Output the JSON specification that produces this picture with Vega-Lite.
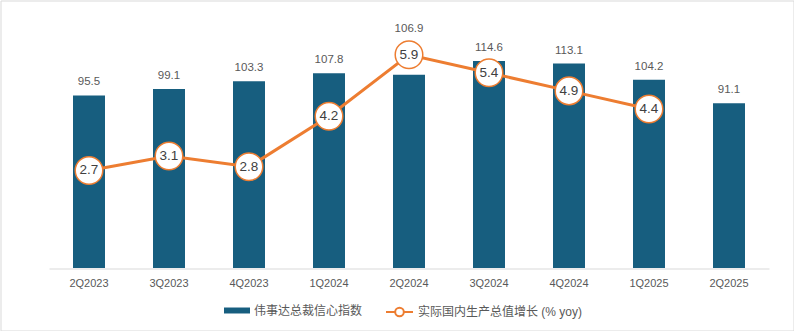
{
  "$schema": "https://vega.github.io/schema/vega-lite/v6.json",
  "width": 793,
  "height": 330,
  "autosize": {"type": "none"},
  "padding": {"left": 0.5, "top": 0.5, "right": 0.5, "bottom": 0.5},
  "background": "white",
  "config": {
    "view": {"stroke": "#D9D9D9", "strokeWidth": 1},
    "font": "Liberation Sans, Noto Sans CJK SC, sans-serif"
  },
  "data": {
    "values": [
      {"q": "2Q2023", "idx": 95.5, "gdp": 2.7},
      {"q": "3Q2023", "idx": 99.1, "gdp": 3.1},
      {"q": "4Q2023", "idx": 103.3, "gdp": 2.8},
      {"q": "1Q2024", "idx": 107.8, "gdp": 4.2},
      {"q": "2Q2024", "idx": 106.9, "gdp": 5.9},
      {"q": "3Q2024", "idx": 114.6, "gdp": 5.4},
      {"q": "4Q2024", "idx": 113.1, "gdp": 4.9},
      {"q": "1Q2025", "idx": 104.2, "gdp": 4.4},
      {"q": "2Q2025", "idx": 91.1, "gdp": null}
    ]
  },
  "encoding": {
    "x": {
      "field": "q",
      "type": "nominal",
      "sort": null,
      "scale": {"range": [48.5, 768.5], "paddingInner": 0.6, "paddingOuter": 0.3},
      "axis": {
        "orient": "bottom",
        "offset": -62,
        "title": null,
        "labelAngle": 0,
        "ticks": false,
        "grid": false,
        "domainColor": "#D9D9D9",
        "domainWidth": 1,
        "labelPadding": 9,
        "labelFontSize": 11,
        "labelColor": "#595959"
      }
    }
  },
  "layer": [
    {
      "mark": {"type": "bar"},
      "encoding": {
        "y": {"field": "idx", "type": "quantitative", "scale": {"domain": [0, 140], "range": [267.5, 14.5], "nice": false}, "axis": null},
        "color": {
          "datum": "伟事达总裁信心指数",
          "scale": {"range": ["#175E7F"]},
          "legend": {
            "orient": "none",
            "legendX": 223.5,
            "legendY": 297,
            "title": null,
            "padding": 0,
            "symbolType": "M-1,-0.23H1V0.23H-1Z",
            "symbolSize": 676,
            "symbolStrokeWidth": 0,
            "labelFontSize": 12,
            "labelColor": "#595959",
            "labelOffset": 4,
            "labelLimit": 300
          }
        }
      }
    },
    {
      "transform": [{"filter": "datum.q !== '2Q2024'"}],
      "mark": {"type": "text", "dy": -13, "baseline": "middle", "fontSize": 11.5, "color": "#595959"},
      "encoding": {
        "y": {"field": "idx", "type": "quantitative", "scale": {"domain": [0, 140], "range": [267.5, 14.5], "nice": false}, "axis": null},
        "text": {"field": "idx", "type": "quantitative", "format": ".1f"}
      }
    },
    {
      "mark": {"type": "line", "color": "#ED7D31", "strokeWidth": 3},
      "encoding": {
        "y": {"field": "gdp", "type": "quantitative", "scale": {"domain": [0, 7], "range": [267.5, 14.5], "nice": false}, "axis": null},
        "color": {
          "datum": "实际国内生产总值增长 (% yoy)",
          "scale": {"range": ["#ED7D31"]},
          "legend": {
            "orient": "none",
            "legendX": 384.5,
            "legendY": 297,
            "title": null,
            "padding": 0,
            "symbolType": "M-1,0H-0.32M0.32,0A0.32,0.32 0 1,1 -0.32,0A0.32,0.32 0 1,1 0.32,0M0.32,0H1",
            "symbolSize": 729,
            "symbolStrokeWidth": 2,
            "symbolFillColor": "white",
            "symbolStrokeColor": "#ED7D31",
            "labelFontSize": 12,
            "labelColor": "#595959",
            "labelOffset": 4,
            "labelLimit": 300
          }
        }
      }
    },
    {
      "mark": {"type": "point", "filled": true, "fill": "white", "stroke": "#ED7D31", "strokeWidth": 1.5, "size": 760, "opacity": 1},
      "encoding": {
        "y": {"field": "gdp", "type": "quantitative", "scale": {"domain": [0, 7], "range": [267.5, 14.5], "nice": false}, "axis": null}
      }
    },
    {
      "mark": {"type": "text", "baseline": "middle", "fontSize": 13.5, "color": "#404040"},
      "encoding": {
        "y": {"field": "gdp", "type": "quantitative", "scale": {"domain": [0, 7], "range": [267.5, 14.5], "nice": false}, "axis": null},
        "text": {"field": "gdp", "type": "quantitative", "format": ".1f"}
      }
    },
    {
      "transform": [{"filter": "datum.q === '2Q2024'"}],
      "mark": {"type": "text", "dy": -46, "baseline": "middle", "fontSize": 11.5, "color": "#595959"},
      "encoding": {
        "y": {"field": "idx", "type": "quantitative", "scale": {"domain": [0, 140], "range": [267.5, 14.5], "nice": false}, "axis": null},
        "text": {"field": "idx", "type": "quantitative", "format": ".1f"}
      }
    }
  ],
  "resolve": {"scale": {"y": "independent", "color": "independent"}}
}
